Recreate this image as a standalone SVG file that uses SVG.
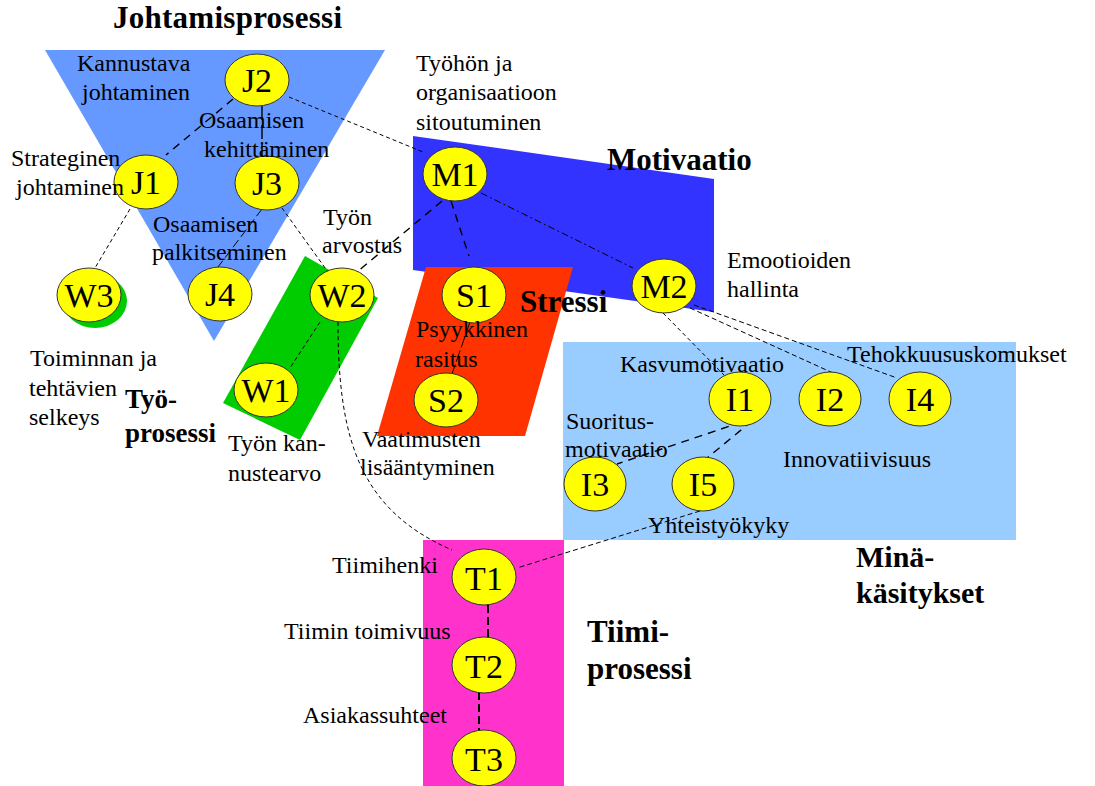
<svg xmlns="http://www.w3.org/2000/svg" width="1095" height="786" viewBox="0 0 1095 786">
<style>
.lbl{font-family:"Liberation Serif","Times New Roman",serif;font-size:24px;fill:#000}
.ttl{font-family:"Liberation Serif","Times New Roman",serif;font-weight:bold;fill:#000}
.nd ellipse{fill:#ffff00;stroke:#333;stroke-width:1}
.nd text{font-family:"Liberation Serif","Times New Roman",serif;font-size:34px;fill:#000;text-anchor:middle}
.cn{fill:none;stroke:#000;stroke-width:1;stroke-dasharray:4 3}
.cm{fill:none;stroke:#000;stroke-width:1.4;stroke-dasharray:8 6}
.ct{fill:none;stroke:#000;stroke-width:2;stroke-dasharray:8 4}
</style>
<rect width="1095" height="786" fill="#fff"/>
<g id="areas">
<polygon points="45,50 385,50 214,341" fill="#6699ff"/>
<polygon points="413,136 714,179 714,312 413,270" fill="#3333ff"/>
<polygon points="426,267 573,267 525,436 377,436" fill="#ff3300"/>
<polygon points="305,256 378,298 300,440 223,403" fill="#00cc00"/>
<rect x="563" y="342" width="453" height="198" fill="#99ccff"/>
<rect x="423" y="540" width="141" height="246" fill="#ff33cc"/>
<ellipse cx="95" cy="301" rx="32" ry="27" fill="#00cc00"/>
</g>
<g id="connectors">
<line class="cn" x1="289" y1="97" x2="423" y2="152"/>
<line class="cm" x1="233" y1="99" x2="166" y2="155"/>
<line class="cm" x1="262" y1="106" x2="262" y2="156" style="stroke-dasharray:14 5"/>
<line class="cn" x1="130" y1="209" x2="95" y2="268"/>
<line class="cn" x1="262" y1="209" x2="218" y2="267" style="stroke-dasharray:9 4"/>
<line class="cn" x1="282" y1="208" x2="328" y2="272"/>
<line class="cm" x1="442" y1="201" x2="357" y2="272"/>
<line class="cm" x1="451" y1="201" x2="469" y2="256"/>
<line class="cn" x1="481" y1="193" x2="633" y2="268" style="stroke-dasharray:7 3 2 3"/>
<line class="cn" x1="663" y1="313" x2="724" y2="375"/>
<line class="cn" x1="690" y1="308" x2="833" y2="373" style="stroke-dasharray:5 3"/>
<line class="cn" x1="694" y1="305" x2="897" y2="378" style="stroke-dasharray:5 3"/>
<line class="cn" x1="470" y1="322" x2="452" y2="374" style="stroke-dasharray:12 3"/>
<line class="cn" x1="320" y1="322" x2="290" y2="368"/>
<path class="cn" d="M338,322 C338,440 360,510 452,550"/>
<line class="cn" x1="700" y1="511" x2="517" y2="568" style="stroke-dasharray:5 3"/>
<line class="cm" x1="742" y1="422" x2="617" y2="464"/>
<line class="cm" x1="752" y1="421" x2="707" y2="458"/>
<line class="ct" x1="488" y1="605" x2="488" y2="645"/>
<line class="ct" x1="479" y1="692" x2="479" y2="731"/>
</g>
<g id="J2" class="nd"><ellipse cx="257" cy="80" rx="32" ry="26"/><text x="257" y="92">J2</text></g>
<g id="J1" class="nd"><ellipse cx="146" cy="182" rx="32" ry="27"/><text x="146" y="194">J1</text></g>
<g id="J3" class="nd"><ellipse cx="267" cy="183" rx="32" ry="27"/><text x="267" y="195">J3</text></g>
<g id="J4" class="nd"><ellipse cx="220" cy="294" rx="32" ry="27"/><text x="220" y="306">J4</text></g>
<g id="W3" class="nd"><ellipse cx="89" cy="295" rx="32" ry="27"/><text x="89" y="307">W3</text></g>
<g id="W2" class="nd"><ellipse cx="342" cy="295" rx="32" ry="27"/><text x="342" y="307">W2</text></g>
<g id="W1" class="nd"><ellipse cx="266" cy="390" rx="32" ry="27"/><text x="266" y="402">W1</text></g>
<g id="M1" class="nd"><ellipse cx="455" cy="174" rx="32" ry="27"/><text x="455" y="186">M1</text></g>
<g id="M2" class="nd"><ellipse cx="664" cy="286" rx="32" ry="27"/><text x="664" y="298">M2</text></g>
<g id="S1" class="nd"><ellipse cx="474" cy="295" rx="32" ry="28"/><text x="474" y="307">S1</text></g>
<g id="S2" class="nd"><ellipse cx="446" cy="400" rx="32" ry="27"/><text x="446" y="412">S2</text></g>
<g id="I1" class="nd"><ellipse cx="740" cy="399" rx="31" ry="27"/><text x="740" y="411">I1</text></g>
<g id="I2" class="nd"><ellipse cx="830" cy="399" rx="31" ry="27"/><text x="830" y="411">I2</text></g>
<g id="I4" class="nd"><ellipse cx="920" cy="399" rx="31" ry="27"/><text x="920" y="411">I4</text></g>
<g id="I3" class="nd"><ellipse cx="595" cy="484" rx="31" ry="27"/><text x="595" y="496">I3</text></g>
<g id="I5" class="nd"><ellipse cx="703" cy="484" rx="31" ry="27"/><text x="703" y="496">I5</text></g>
<g id="T1" class="nd"><ellipse cx="484" cy="577" rx="32" ry="28"/><text x="484" y="590">T1</text></g>
<g id="T2" class="nd"><ellipse cx="484" cy="665" rx="32" ry="28"/><text x="484" y="678">T2</text></g>
<g id="T3" class="nd"><ellipse cx="484" cy="758" rx="32" ry="28"/><text x="484" y="771">T3</text></g>
<g id="labels">
<text class="ttl" x="113" y="28" font-size="31" textLength="229">Johtamisprosessi</text>
<text class="ttl" x="607" y="170" font-size="31">Motivaatio</text>
<text class="ttl" x="520" y="312" font-size="31">Stressi</text>
<text class="ttl" x="125" y="408" font-size="27">Työ-</text>
<text class="ttl" x="125" y="442" font-size="27">prosessi</text>
<text class="ttl" x="856" y="567" font-size="30">Minä-</text>
<text class="ttl" x="856" y="603" font-size="30">käsitykset</text>
<text class="ttl" x="587" y="642" font-size="31">Tiimi-</text>
<text class="ttl" x="587" y="679" font-size="31">prosessi</text>
<text class="lbl" x="77" y="71">Kannustava</text>
<text class="lbl" x="82" y="100">johtaminen</text>
<text class="lbl" x="199" y="128">Osaamisen</text>
<text class="lbl" x="204" y="157">kehittäminen</text>
<text class="lbl" x="11" y="166">Strateginen</text>
<text class="lbl" x="16" y="195">johtaminen</text>
<text class="lbl" x="153" y="232">Osaamisen</text>
<text class="lbl" x="152" y="260">palkitseminen</text>
<text class="lbl" x="323" y="225">Työn</text>
<text class="lbl" x="322" y="253">arvostus</text>
<text class="lbl" x="416" y="71">Työhön ja</text>
<text class="lbl" x="416" y="100">organisaatioon</text>
<text class="lbl" x="416" y="130">sitoutuminen</text>
<text class="lbl" x="727" y="268">Emootioiden</text>
<text class="lbl" x="727" y="297">hallinta</text>
<text class="lbl" x="416" y="337">Psyykkinen</text>
<text class="lbl" x="415" y="367">rasitus</text>
<text class="lbl" x="362" y="447">Vaatimusten</text>
<text class="lbl" x="360" y="475">lisääntyminen</text>
<text class="lbl" x="30" y="366">Toiminnan ja</text>
<text class="lbl" x="29" y="396">tehtävien</text>
<text class="lbl" x="29" y="425">selkeys</text>
<text class="lbl" x="228" y="451">Työn kan-</text>
<text class="lbl" x="228" y="481">nustearvo</text>
<text class="lbl" x="620" y="372">Kasvumotivaatio</text>
<text class="lbl" x="847" y="362">Tehokkuususkomukset</text>
<text class="lbl" x="566" y="429">Suoritus-</text>
<text class="lbl" x="565" y="457">motivaatio</text>
<text class="lbl" x="783" y="467">Innovatiivisuus</text>
<text class="lbl" x="648" y="533">Yhteistyökyky</text>
<text class="lbl" x="332" y="573">Tiimihenki</text>
<text class="lbl" x="284" y="639">Tiimin toimivuus</text>
<text class="lbl" x="303" y="723">Asiakassuhteet</text>
</g>
</svg>
